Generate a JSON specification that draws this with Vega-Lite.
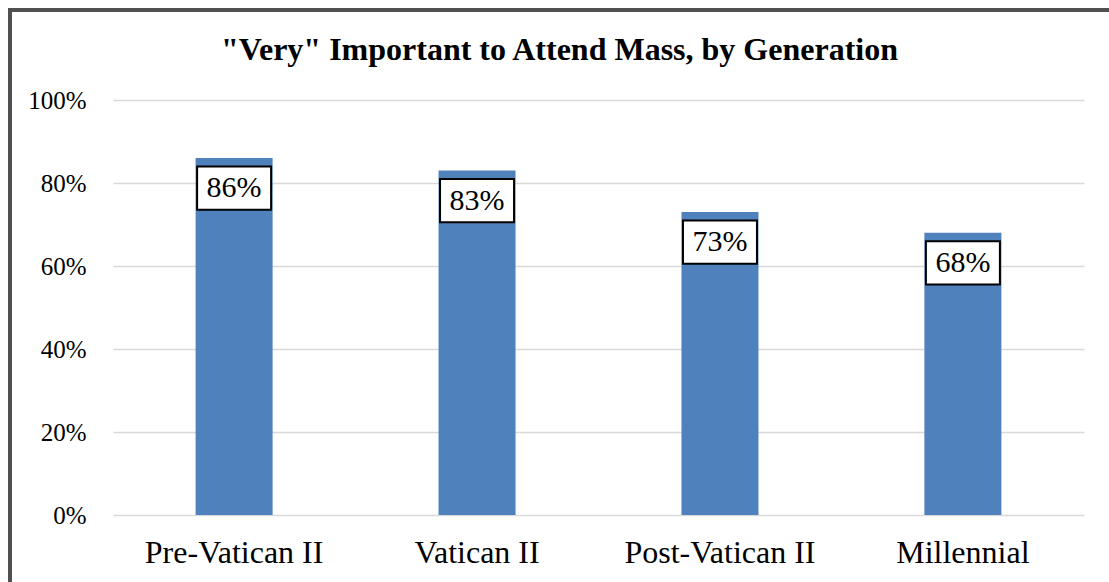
{
  "$schema": "https://vega.github.io/schema/vega-lite/v6.json",
  "width": 1099,
  "height": 572,
  "autosize": {"type": "none"},
  "padding": {"left": 10, "top": 10, "right": 0, "bottom": 0},
  "background": "white",
  "title": {
    "text": "\"Very\" Important to Attend Mass, by Generation",
    "font": "Liberation Serif",
    "fontSize": 32,
    "fontWeight": "bold",
    "color": "black",
    "anchor": "middle",
    "frame": "group",
    "baseline": "alphabetic",
    "offset": -82
  },
  "data": {
    "values": [
      {"generation": "Pre-Vatican II", "pct": 0.86},
      {"generation": "Vatican II", "pct": 0.83},
      {"generation": "Post-Vatican II", "pct": 0.73},
      {"generation": "Millennial", "pct": 0.68}
    ]
  },
  "encoding": {
    "x": {
      "field": "generation",
      "type": "nominal",
      "sort": null,
      "scale": {"range": [103, 1074], "paddingInner": 0.683, "paddingOuter": 0.34},
      "axis": {
        "title": null,
        "orient": "bottom",
        "offset": -67,
        "domain": false,
        "ticks": false,
        "grid": false,
        "labelAngle": 0,
        "labelFont": "Liberation Serif",
        "labelFontSize": 32,
        "labelColor": "black",
        "labelPadding": 22,
        "labelLimit": 0,
        "labelOverlap": false
      }
    },
    "y": {
      "field": "pct",
      "type": "quantitative",
      "scale": {"domain": [0, 1], "range": [505, 90], "nice": false},
      "axis": {
        "title": null,
        "offset": -103,
        "domain": false,
        "ticks": false,
        "format": ".0%",
        "values": [0, 0.2, 0.4, 0.6, 0.8, 1],
        "labelFont": "Liberation Serif",
        "labelFontSize": 25,
        "labelColor": "black",
        "labelPadding": 27,
        "gridColor": "#D9D9D9",
        "gridWidth": 1.3
      }
    }
  },
  "layer": [
    {"mark": {"type": "bar", "color": "#4F81BD"}},
    {
      "mark": {
        "type": "point",
        "shape": "M-1,-0.585L1,-0.585L1,0.585L-1,0.585Z",
        "size": 5476,
        "filled": true,
        "fill": "white",
        "stroke": "black",
        "strokeWidth": 2,
        "opacity": 1,
        "fillOpacity": 1,
        "strokeOpacity": 1,
        "yOffset": 30
      }
    },
    {
      "mark": {
        "type": "text",
        "font": "Liberation Serif",
        "fontSize": 30,
        "dy": 30,
        "baseline": "middle",
        "color": "black"
      },
      "encoding": {"text": {"field": "pct", "type": "quantitative", "format": ".0%"}}
    }
  ],
  "config": {
    "view": {
      "stroke": "#505050",
      "strokeWidth": 4,
      "strokeDash": [1099, 1671, 572],
      "strokeCap": "square"
    }
  }
}
